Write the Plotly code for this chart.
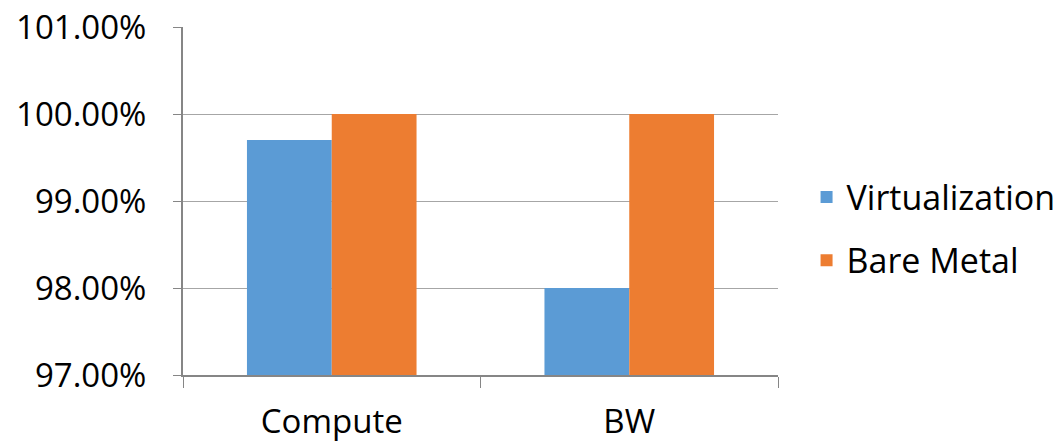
import plotly.graph_objects as go

# Relative performance per workload
categories = ["Compute", "BW"]
virtualization = [0.9970, 0.9800]
bare_metal = [1.0000, 1.0000]

font_family = "Open Sans, Noto Sans, DejaVu Sans, sans-serif"
axis_gray = "#868686"
grid_gray = "#A6A6A6"

fig = go.Figure()
fig.add_trace(go.Bar(
    x=categories, y=virtualization, name="Virtualization",
    marker=dict(color="#5B9BD5", line=dict(width=0)), legendgroup="v",
))
fig.add_trace(go.Bar(
    x=categories, y=bare_metal, name="Bare Metal",
    marker=dict(color="#ED7D31", line=dict(width=0)), legendgroup="b",
))

fig.update_layout(
    width=1055, height=444,
    margin=dict(l=183, r=277, t=27, b=69, autoexpand=False),
    paper_bgcolor="white", plot_bgcolor="white",
    barmode="group", bargap=0.43, bargroupgap=0,
    font=dict(family=font_family, size=33, color="#000000"),
    legend=dict(
        x=1.048, y=0.42, xanchor="left", yanchor="middle",
        font=dict(size=34), tracegroupgap=16,
        itemsizing="constant", bgcolor="rgba(0,0,0,0)",
    ),
    xaxis=dict(
        type="category", tickson="boundaries", automargin=False,
        showline=True, linecolor=axis_gray, linewidth=2,
        ticks="outside", ticklen=11, tickcolor=axis_gray, tickwidth=1,
        showgrid=False, ticklabelstandoff=16,
    ),
    yaxis=dict(
        range=[0.97, 1.01], dtick=0.01, tickformat=".2%", automargin=False,
        showline=True, linecolor=axis_gray, linewidth=2,
        ticks="outside", ticklen=8, tickcolor=axis_gray, tickwidth=1,
        showgrid=True, gridcolor=grid_gray, gridwidth=1,
        zeroline=False, ticklabelstandoff=20,
    ),
)

fig.write_html("out.html")
